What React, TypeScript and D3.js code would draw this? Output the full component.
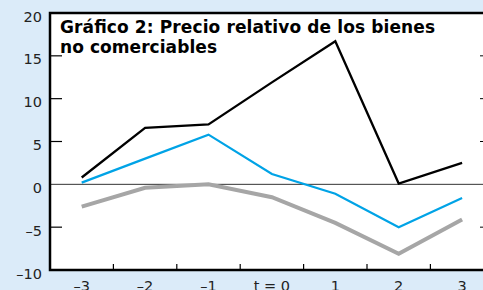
import * as d3 from 'd3'
import { useRef, useEffect } from 'react'

const periods = ['–3', '–2', '–1', 't = 0', '1', '2', '3']
const yTicks = [20, 15, 10, 5, 0, -5, -10]
const blackSeries = [0.8, 6.6, 7.0, 11.9, 16.7, 0.1, 2.5]
const blueSeries = [0.2, 3.0, 5.8, 1.2, -1.1, -5.0, -1.6]
const greySeries = [-2.6, -0.4, 0.0, -1.5, -4.5, -8.1, -4.1]
const titleLines = ['Gráfico 2: Precio relativo de los bienes', 'no comerciables']
const titleWidths = [375, 157]

const W = 483
const H = 290

const Chart = () => {
  const ref = useRef(null)

  useEffect(() => {
    const svg = d3.select(ref.current)
    svg.selectAll('*').remove()

    const left = 50
    const top = 13
    const bottom = 270
    const right = W

    svg.append('rect').attr('width', W).attr('height', H).attr('fill', '#dbebf9')
    svg
      .append('rect')
      .attr('x', left)
      .attr('y', top)
      .attr('width', right - left)
      .attr('height', bottom - top)
      .attr('fill', '#ffffff')

    const x = d3.scaleBand().domain(periods).range([left, left + 7 * 63.4])
    const y = d3.scaleLinear().domain([-10, 20]).range([bottom, top])
    const font = 'DejaVu Sans, Verdana, sans-serif'

    // zero line
    svg
      .append('line')
      .attr('x1', left)
      .attr('x2', right)
      .attr('y1', y(0))
      .attr('y2', y(0))
      .attr('stroke', '#333')
      .attr('stroke-width', 1)

    // inner ticks left and right
    const inner = yTicks.filter((t) => t !== 0 && t !== 20 && t !== -10)
    svg
      .append('g')
      .selectAll('line')
      .data(inner)
      .enter()
      .append('line')
      .attr('x1', left)
      .attr('x2', left + 12)
      .attr('y1', (d) => y(d))
      .attr('y2', (d) => y(d))
      .attr('stroke', '#000')
      .attr('stroke-width', 1.2)
    svg
      .append('g')
      .selectAll('line')
      .data(inner)
      .enter()
      .append('line')
      .attr('x1', right - 3)
      .attr('x2', right)
      .attr('y1', (d) => y(d))
      .attr('y2', (d) => y(d))
      .attr('stroke', '#000')
      .attr('stroke-width', 1)

    // bottom ticks between categories
    svg
      .append('g')
      .selectAll('line')
      .data(periods.slice(1))
      .enter()
      .append('line')
      .attr('x1', (d) => x(d))
      .attr('x2', (d) => x(d))
      .attr('y1', bottom)
      .attr('y2', bottom - 6)
      .attr('stroke', '#000')
      .attr('stroke-width', 1.2)

    // frame
    svg
      .append('path')
      .attr('d', `M${right},${top}H${left}V${bottom}H${right}`)
      .attr('fill', 'none')
      .attr('stroke', '#000')
      .attr('stroke-width', 2.5)

    const line = d3
      .line()
      .x((d, i) => x(periods[i]) + x.bandwidth() / 2)
      .y((d) => y(d))

    const series = [
      { values: greySeries, color: '#a6a6a6', width: 4 },
      { values: blueSeries, color: '#00a3e6', width: 2.2 },
      { values: blackSeries, color: '#000000', width: 2.3 }
    ]
    svg
      .append('g')
      .selectAll('path')
      .data(series)
      .enter()
      .append('path')
      .attr('d', (d) => line(d.values))
      .attr('fill', 'none')
      .attr('stroke', (d) => d.color)
      .attr('stroke-width', (d) => d.width)

    // y labels
    svg
      .append('g')
      .selectAll('text')
      .data(yTicks)
      .enter()
      .append('text')
      .attr('x', 42)
      .attr('y', (d) => y(d) + 8.5)
      .attr('text-anchor', 'end')
      .attr('font-family', font)
      .attr('font-size', 14.5)
      .attr('fill', '#222')
      .text((d) => (d < 0 ? '–' + Math.abs(d) : String(d)))

    // x labels
    svg
      .append('g')
      .selectAll('text')
      .data(periods)
      .enter()
      .append('text')
      .attr('x', (d) => x(d) + x.bandwidth() / 2)
      .attr('y', 291)
      .attr('text-anchor', 'middle')
      .attr('font-family', font)
      .attr('font-size', 14.5)
      .attr('fill', '#222')
      .text((d) => d)

    // title
    svg
      .append('g')
      .selectAll('text')
      .data(titleLines)
      .enter()
      .append('text')
      .attr('x', 60)
      .attr('y', (d, i) => 32.5 + i * 20.5)
      .attr('font-family', font)
      .attr('font-size', 17)
      .attr('font-weight', 'bold')
      .attr('fill', '#000')
      .attr('textLength', (d, i) => titleWidths[i])
      .attr('lengthAdjust', 'spacing')
      .text((d) => d)
  }, [])

  return <svg ref={ref} width={W} height={H} style={{ display: 'block' }}></svg>
}

export default function App() {
  return (
    <div style={{ position: 'fixed', left: 0, top: 0 }}>
      <Chart />
    </div>
  )
}
